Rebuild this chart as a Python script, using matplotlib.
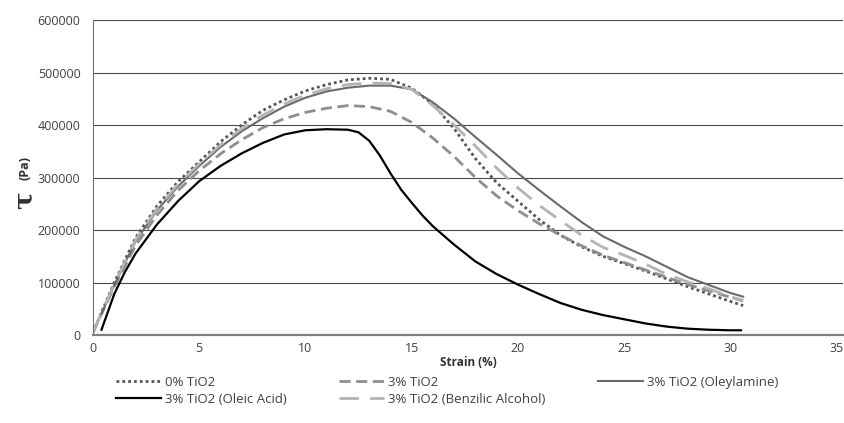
import numpy as np
import matplotlib.pyplot as plt

# --- data (strain in %, shear stress in Pa) ---
strain = [0, 1, 2, 3, 4, 5, 6, 7, 8, 9, 10, 11, 12, 13, 14, 15, 16, 17, 18, 19,
          20, 21, 22, 23, 24, 25, 26, 27, 28, 29, 30, 30.6]

tio2_0 = [5000, 100000, 185000, 245000, 292000, 330000, 368000, 400000, 428000, 448000,
          465000, 477000, 486000, 489000, 487000, 470000, 440000, 393000, 336000, 290000,
          255000, 220000, 190000, 168000, 150000, 136000, 122000, 107000, 92000, 78000,
          64000, 56000]

tio2_3 = [5000, 92000, 170000, 228000, 275000, 313000, 345000, 372000, 395000, 412000,
          424000, 432000, 437000, 435000, 426000, 405000, 375000, 340000, 300000, 265000,
          237000, 212000, 190000, 170000, 152000, 138000, 124000, 110000, 96000, 84000,
          72000, 65000]

tio2_oleylamine = [5000, 95000, 178000, 237000, 283000, 322000, 358000, 388000, 413000, 435000,
                   452000, 464000, 471000, 475000, 475000, 468000, 443000, 412000, 377000, 343000,
                   308000, 276000, 245000, 215000, 188000, 168000, 150000, 130000, 110000, 95000,
                   80000, 73000]

tio2_benzilic = [5000, 97000, 181000, 240000, 287000, 326000, 362000, 393000, 419000, 440000,
                 457000, 469000, 477000, 480000, 479000, 468000, 437000, 400000, 360000, 318000,
                 280000, 247000, 218000, 190000, 167000, 152000, 135000, 116000, 101000, 88000,
                 73000, 66000]

strain_oleic = [0.4, 1, 1.5, 2, 3, 4, 5, 6, 7, 8, 9, 10, 11, 12, 12.5, 13, 13.5, 14, 14.5,
                15, 15.5, 16, 17, 18, 19, 20, 21, 22, 23, 24, 25, 26, 27, 28, 29, 30, 30.5]
tio2_oleic = [10000, 78000, 120000, 155000, 210000, 255000, 293000, 322000, 346000, 366000,
              382000, 390000, 392000, 391000, 386000, 370000, 342000, 308000, 277000,
              252000, 228000, 207000, 172000, 140000, 116000, 96000, 78000, 61000, 48000,
              38000, 30000, 22000, 16000, 12000, 10000, 9000, 9000]

labels = ["0% TiO2", "3% TiO2", "3% TiO2 (Oleylamine)",
          "3% TiO2 (Oleic Acid)", "3% TiO2 (Benzilic Alcohol)"]

plt.rcParams["font.family"] = ["Open Sans", "DejaVu Sans"]

fig = plt.figure(figsize=(8.44, 4.23), dpi=100)
ax = fig.add_axes([93 / 844, 1 - 335 / 423, 750 / 844, 315 / 423])

h0, = ax.plot(strain, tio2_0, color="#555555", lw=2.0, linestyle=(0, (1, 1.1)))
h1, = ax.plot(strain, tio2_3, color="#8e8e8e", lw=2.0, linestyle=(0, (4, 2)))
h2, = ax.plot(strain, tio2_oleylamine, color="#6a6a6a", lw=1.5)
h3, = ax.plot(strain_oleic, tio2_oleic, color="black", lw=1.6)
h4, = ax.plot(strain, tio2_benzilic, color="#b3b3b3", lw=2.0, linestyle=(0, (7, 4)))

ax.set_xlim(0, 35.3)
ax.set_ylim(0, 600000)
ax.set_xticks(np.arange(0, 36, 5))
ax.set_yticks(np.arange(0, 600001, 100000))
ax.set_yticklabels([f"{v:d}" for v in range(0, 600001, 100000)])
ax.tick_params(axis="both", length=0, labelsize=9, labelcolor="#404040")
ax.tick_params(axis="x", pad=5)
ax.tick_params(axis="y", pad=9)

ax.grid(True, axis="y", color="#4a4a4a", lw=0.8)
ax.set_axisbelow(True)
for s in ["top", "right"]:
    ax.spines[s].set_visible(False)
ax.spines["left"].set_color("#707070")
ax.spines["left"].set_linewidth(0.8)
ax.spines["bottom"].set_color("#808080")
ax.spines["bottom"].set_linewidth(1.6)

ax.set_xlabel("Strain (%)", fontsize=8.5, fontweight="bold", color="#303030", labelpad=1)

# y label: large tau + small unit
fig.text(0.028, 1 - 200 / 423, "\u03c4", rotation=90, fontsize=19, fontweight="bold",
         ha="center", va="center", color="#303030", family=["DejaVu Serif"])
fig.text(0.030, 1 - 168 / 423, "(Pa)", rotation=90, fontsize=9, fontweight="bold",
         ha="center", va="center", color="#303030")

# legend in row order: reorder handles for column-wise filling
handles = [h0, h3, h1, h4, h2]
leg_labels = [labels[0], labels[3], labels[1], labels[4], labels[2]]
fig.legend(handles, leg_labels, loc="upper left", bbox_to_anchor=(104 / 844, 1 - 364 / 423),
           ncol=3, frameon=False, fontsize=9.5, handlelength=3.4, handletextpad=0.3,
           columnspacing=4.0, labelspacing=0.3, labelcolor="#404040")

fig.savefig("out.png", dpi=100)
